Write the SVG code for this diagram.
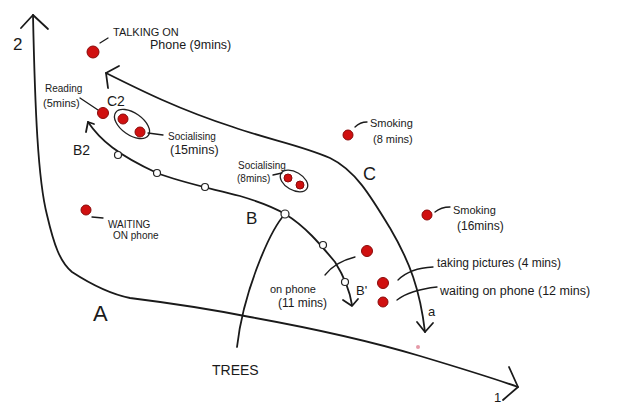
<svg xmlns="http://www.w3.org/2000/svg" width="617" height="414" viewBox="0 0 617 414">
<style>
.ln{fill:none;stroke:#1a1a1a;stroke-width:1.8;stroke-linecap:round;stroke-linejoin:round}
.th{fill:none;stroke:#1a1a1a;stroke-width:1.3;stroke-linecap:round}
.pt{fill:#fff;stroke:#222;stroke-width:1.2}
.dot{fill:#d01010;stroke:#8a0a0a;stroke-width:1}
.grp{fill:none;stroke:#222;stroke-width:1.3}
text{font-family:"Liberation Sans",Arial,sans-serif;fill:#1a1a1a}
</style>
<rect width="617" height="414" fill="#fff"/>
<g id="connectors">
<path id="axes-A" class="ln" d="M33,15 C35,110 38,180 47,215 C54,245 60,262 72,272 C92,285 110,294 130,298 C170,303 210,309 250,317 C300,326 360,338 420,356 C460,368 490,377 518,387"/>
<path class="ln" d="M21,28 L33,15 L48,29"/>
<path class="ln" d="M509,367 L518,387 L503,400"/>
<path id="curve-C" class="ln" d="M106,73 C140,90 180,110 233,127 C270,140 300,145 330,158 C355,170 370,195 390,228 C410,262 420,290 425,332"/>
<path class="ln" d="M119,66 L106,73 L108,88"/>
<path class="ln" d="M417,322 L425,332 L433,323"/>
<path id="curve-B" class="ln" d="M88,122 C100,140 118,155 157,173 C180,182 205,187 240,196 C260,202 275,208 285,214 C305,226 320,244 335,262 C345,278 350,292 352,305"/>
<path class="ln" d="M86,132 L88,122 L94,124"/>
<path class="ln" d="M343,300 L352,306 L358,299"/>
<path id="trees-line" class="ln" d="M237,347 C240,320 248,290 260,260 C268,240 275,225 285,214"/>
<path class="th" d="M100,43 L108,38"/>
<path class="th" d="M80,98 L98,110"/>
<path class="th" d="M148,133 L163,135"/>
<path class="th" d="M273,175 L282,173"/>
<path class="th" d="M355,127 Q360,122 367,122"/>
<path class="th" d="M435,212 Q441,207 450,207"/>
<path class="th" d="M398,280 Q410,268 433,267"/>
<path class="th" d="M397,300 Q410,290 437,287"/>
<path class="th" d="M92,217 L103,218"/>
<path class="th" d="M325,275 Q335,262 355,257"/>
</g>
<g id="waypoints">
<circle class="pt" cx="118" cy="155" r="3.5"/>
<circle class="pt" cx="157" cy="173" r="3.5"/>
<circle class="pt" cx="205" cy="187" r="3.5"/>
<circle class="pt" cx="285" cy="214" r="4"/>
<circle class="pt" cx="323" cy="245" r="3.5"/>
<circle class="pt" cx="345" cy="282" r="3.5"/>
</g>
<g id="axis-labels">
<text x="13" y="50" font-size="17">2</text>
<text x="494" y="402" font-size="13">1</text>
<text x="93" y="321" font-size="22">A</text>
<text x="246" y="224" font-size="17">B</text>
<text x="363" y="180" font-size="18">C</text>
<text x="107" y="106" font-size="14">C2</text>
<text x="73" y="155" font-size="14">B2</text>
<text x="356" y="295" font-size="13">B'</text>
<text x="428" y="316" font-size="13">a</text>
<text x="212" y="375" font-size="14">TREES</text>
</g>
<g id="talking-phone-9">
<circle class="dot" cx="93" cy="52" r="6"/>
<text x="113" y="36" font-size="11">TALKING ON</text>
<text x="150" y="49" font-size="12.5">Phone (9mins)</text>
</g>
<g id="reading-5">
<circle class="dot" cx="103" cy="113" r="5.5"/>
<text x="45" y="92" font-size="10">Reading</text>
<text x="43" y="107" font-size="11">(5mins)</text>
</g>
<g id="socialising-15">
<ellipse class="grp" cx="132" cy="124" rx="20" ry="11" transform="rotate(35 132 124)"/>
<circle class="dot" cx="123" cy="119" r="5"/>
<circle class="dot" cx="140" cy="132" r="5"/>
<text x="168" y="140" font-size="10">Socialising</text>
<text x="170" y="154" font-size="12.5">(15mins)</text>
</g>
<g id="socialising-8">
<ellipse class="grp" cx="294" cy="181" rx="15" ry="9" transform="rotate(30 294 181)"/>
<circle class="dot" cx="288" cy="178" r="4"/>
<circle class="dot" cx="300" cy="185" r="4"/>
<text x="238" y="169" font-size="10">Socialising</text>
<text x="237" y="182" font-size="10">(8mins)</text>
</g>
<g id="waiting-phone">
<circle class="dot" cx="86" cy="210" r="5"/>
<text x="108" y="228" font-size="10">WAITING</text>
<text x="113" y="239" font-size="10">ON phone</text>
</g>
<g id="smoking-8">
<circle class="dot" cx="348" cy="135" r="5"/>
<text x="370" y="127" font-size="11">Smoking</text>
<text x="373" y="143" font-size="11">(8 mins)</text>
</g>
<g id="smoking-16">
<circle class="dot" cx="427" cy="215" r="5"/>
<text x="453" y="214" font-size="11">Smoking</text>
<text x="457" y="230" font-size="12">(16mins)</text>
</g>
<g id="on-phone-11">
<circle class="dot" cx="367" cy="251" r="5.5"/>
<text x="270" y="293" font-size="11">on phone</text>
<text x="278" y="307" font-size="12">(11 mins)</text>
</g>
<g id="taking-pictures-4">
<circle class="dot" cx="383" cy="283" r="5.5"/>
<text x="437" y="267" font-size="12">taking pictures (4 mins)</text>
</g>
<g id="waiting-phone-12">
<circle class="dot" cx="383" cy="302" r="5"/>
<text x="440" y="295" font-size="12.5">waiting on phone (12 mins)</text>
</g>
<circle cx="418" cy="347" r="2" fill="#e59aa8"/>
</svg>
